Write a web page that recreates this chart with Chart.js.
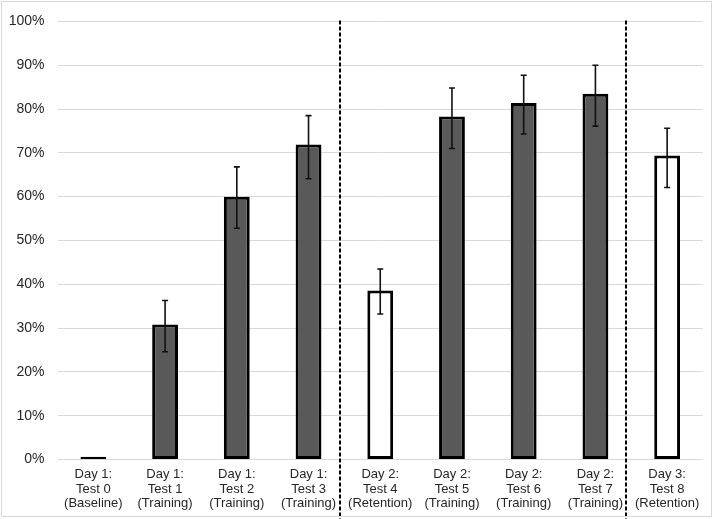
<!DOCTYPE html>
<html>
<head>
<meta charset="utf-8">
<script src="https://cdn.jsdelivr.net/npm/chart.js@4"></script>
<style>
  html, body { margin: 0; padding: 0; background: #fff; }
  #wrap { position: relative; width: 714px; height: 519px; }
</style>
</head>
<body>
<div id="wrap"><canvas id="c" width="714" height="519"></canvas></div>
<script>
const categories = [
  ["Day 1:", "Test 0", "(Baseline)"],
  ["Day 1:", "Test 1", "(Training)"],
  ["Day 1:", "Test 2", "(Training)"],
  ["Day 1:", "Test 3", "(Training)"],
  ["Day 2:", "Test 4", "(Retention)"],
  ["Day 2:", "Test 5", "(Training)"],
  ["Day 2:", "Test 6", "(Training)"],
  ["Day 2:", "Test 7", "(Training)"],
  ["Day 3:", "Test 8", "(Retention)"]
];
const values   = [0.6, 30.8, 60.0, 71.9, 38.6, 78.3, 81.4, 83.5, 69.4];
const errHigh  = [null, 36.3, 66.8, 78.5, 43.5, 84.8, 87.7, 90.0, 75.6];
const errLow   = [null, 24.6, 52.8, 64.1, 33.2, 71.0, 74.3, 76.1, 62.1];
const barKinds = ["baseline", "training", "training", "training", "retention", "training", "training", "training", "retention"];
const dividerPositions = [3.44, 7.43];
const yTicks = [0, 10, 20, 30, 40, 50, 60, 70, 80, 90, 100];

const fillFor = { baseline: "#000000", training: "#595959", retention: "#ffffff" };

const errorBarPlugin = {
  id: "errorBars",
  afterDatasetsDraw(chart) {
    const ctx = chart.ctx;
    const meta = chart.getDatasetMeta(0);
    const y = chart.scales.y;
    ctx.save();
    ctx.strokeStyle = "#111";
    ctx.lineWidth = 1.6;
    meta.data.forEach((bar, i) => {
      if (errHigh[i] == null) return;
      const x = bar.x;
      const yt = y.getPixelForValue(errHigh[i]);
      const yb = y.getPixelForValue(errLow[i]);
      ctx.beginPath();
      ctx.moveTo(x, yt); ctx.lineTo(x, yb);
      ctx.moveTo(x - 3, yt); ctx.lineTo(x + 3, yt);
      ctx.moveTo(x - 3, yb); ctx.lineTo(x + 3, yb);
      ctx.stroke();
    });
    ctx.restore();
  }
};

const dividerPlugin = {
  id: "dividers",
  afterDraw(chart) {
    const ctx = chart.ctx;
    const xs = chart.scales.x;
    ctx.save();
    ctx.strokeStyle = "#000";
    ctx.lineWidth = 2;
    ctx.setLineDash([4, 2]);
    dividerPositions.forEach(p => {
      const x = Math.round(xs.getPixelForValue(p));
      ctx.beginPath();
      ctx.moveTo(x, chart.chartArea.top - 1);
      ctx.lineTo(x, chart.height);
      ctx.stroke();
    });
    ctx.setLineDash([]);
    ctx.strokeStyle = "#d9d9d9";
    ctx.lineWidth = 1;
    ctx.strokeRect(1.5, 1.5, chart.width - 4, chart.height - 4);
    ctx.restore();
  }
};

new Chart(document.getElementById("c"), {
  type: "bar",
  data: {
    labels: categories,
    datasets: [{
      data: values,
      backgroundColor: barKinds.map(k => fillFor[k]),
      borderColor: "#000",
      borderWidth: 3,
      borderSkipped: false,
      barPercentage: 0.36,
      categoryPercentage: 1.0
    }]
  },
  options: {
    responsive: false,
    animation: false,
    devicePixelRatio: 1,
    layout: { padding: { top: 14, right: 11, left: 0, bottom: 0 } },
    plugins: { legend: { display: false }, tooltip: { enabled: false } },
    scales: {
      x: {
        grid: { display: false, drawTicks: false },
        border: { display: false },
        ticks: {
          color: "#262626",
          font: { family: "'Liberation Sans', Arial, sans-serif", size: 13, lineHeight: 1.115 },
          padding: 8,
          maxRotation: 0,
          autoSkip: false
        },
        afterFit(s) { s.height = 59.5; }
      },
      y: {
        min: 0, max: 100,
        afterBuildTicks(s) { s.ticks = yTicks.map(v => ({ value: v })); },
        grid: { color: "#d9d9d9", lineWidth: 1, drawTicks: false },
        border: { display: false },
        ticks: {
          color: "#262626",
          font: { family: "'Liberation Sans', Arial, sans-serif", size: 14 },
          padding: 13,
          callback: v => v + "%"
        },
        afterFit(s) { s.width = 57.5; }
      }
    }
  },
  plugins: [errorBarPlugin, dividerPlugin]
});
</script>
</body>
</html>
